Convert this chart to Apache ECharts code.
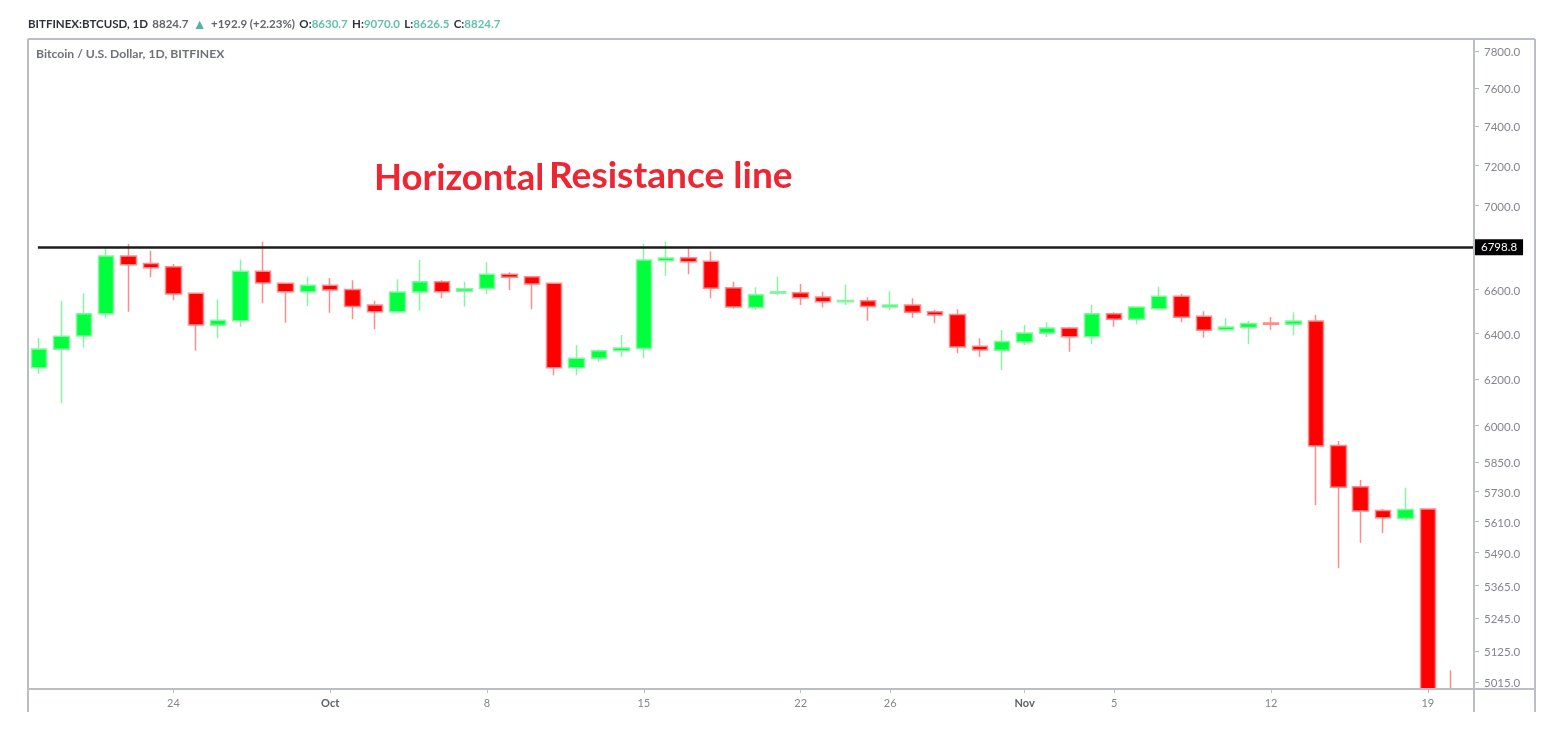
<!DOCTYPE html>
<html>
<head>
<meta charset="utf-8">
<style>
  html, body { margin: 0; padding: 0; background: #fff; }
  #main { width: 1566px; height: 746px; }
</style>
<script src="https://cdn.jsdelivr.net/npm/echarts@6/dist/echarts.min.js"></script>
</head>
<body>
<div id="main"></div>
<script>
// one candle per day, 18 Sep to 20 Nov, day 0 is 18 Sep
// the last two candles run off the picture, candlestick is not clipped so they stop at the axis floor
const opens = [
  6249, 6330, 6389, 6489, 6757, 6722, 6707, 6583, 6437, 6458, 6686, 6630, 6590, 6620, 6600, 6529,
  6499, 6589, 6637, 6592, 6605, 6671, 6660, 6629, 6249, 6290, 6324, 6333, 6735, 6749, 6733, 6609,
  6518, 6583, 6585, 6566, 6544, 6549, 6520, 6529, 6499, 6486, 6343, 6326, 6362, 6401, 6425, 6386,
  6490, 6465, 6512, 6570, 6478, 6417, 6427, 6447, 6442, 6457, 5918, 5749, 5654, 5623, 5660, 4990.2,
];
const closes = [
  6331, 6388, 6490, 6757, 6716, 6702, 6580, 6438, 6460, 6686, 6631, 6590, 6620, 6598, 6522, 6499,
  6589, 6637, 6590, 6604, 6671, 6657, 6626, 6249, 6290, 6324, 6336, 6738, 6748, 6730, 6606, 6520,
  6576, 6590, 6563, 6544, 6550, 6522, 6529, 6496, 6484, 6340, 6327, 6365, 6403, 6425, 6386, 6489,
  6465, 6520, 6569, 6473, 6415, 6429, 6445, 6442, 6457, 5916, 5747, 5652, 5626, 5658, 4990, 4990,
];
const lows = [
  6221, 6095, 6339, 6469, 6499, 6657, 6551, 6324, 6379, 6431, 6537, 6449, 6525, 6494, 6465, 6419,
  6492, 6503, 6560, 6522, 6580, 6598, 6510, 6216, 6216, 6275, 6297, 6290, 6665, 6671, 6560, 6512,
  6506, 6574, 6529, 6518, 6529, 6458, 6506, 6471, 6446, 6312, 6297, 6239, 6349, 6385, 6319, 6352,
  6431, 6442, 6506, 6451, 6381, 6409, 6352, 6417, 6394, 5676, 5430, 5528, 5566, 5614, 4990, 4990,
];
const highs = [
  6380, 6549, 6583, 6794, 6814, 6782, 6719, 6585, 6555, 6741, 6825, 6633, 6660, 6654, 6644, 6549,
  6648, 6738, 6644, 6637, 6728, 6681, 6664, 6631, 6349, 6330, 6394, 6814, 6825, 6794, 6778, 6637,
  6611, 6660, 6626, 6590, 6624, 6565, 6593, 6560, 6508, 6510, 6379, 6416, 6438, 6451, 6429, 6529,
  6496, 6522, 6613, 6580, 6501, 6469, 6457, 6475, 6496, 6484, 5936, 5776, 5660, 5745, 5660, 5056,
];

const tickDays = [6, 13, 20, 27, 34, 38, 44, 48, 55, 62];
const tickLabels = ["24", "Oct", "8", "15", "22", "26", "Nov", "5", "12", "19"];
const priceTicks = [7800, 7600, 7400, 7200, 7000, 6600, 6400, 6200, 6000, 5850, 5730, 5610, 5490, 5365, 5245, 5125, 5015];
const resistance = 6798.8;

const gray = "#83858c";
const frame = "#bcbec6";
const up = "#00ff3c";
const down = "#ff0000";

const myChart = echarts.init(document.getElementById("main"));

function frameLine(x1, y1, x2, y2) {
  return {
    type: "line",
    silent: true,
    z: 10,
    shape: { x1, y1, x2, y2 },
    style: { stroke: frame, lineWidth: 2 },
  };
}

const option = {
  backgroundColor: "#fff",
  animation: false,
  textStyle: { fontFamily: "Lato" },
  title: [
    {
      // OHLC strip above the chart
      left: 23,
      top: 10,
      text:
        "{b|BITFINEX:BTCUSD, 1D} {g|8824.7} {t|▲} {g|+192.9 (+2.23%)} {b|O:}{v|8630.7} {b|H:}{v|9070.0} {b|L:}{v|8626.5} {b|C:}{v|8824.7}",
      textStyle: {
        rich: {
          b: { fontFamily: "Lato", fontSize: 11.5, fontWeight: "bold", color: "#2f3138" },
          g: { fontFamily: "Lato", fontSize: 11.5, color: "#62646b" },
          t: { fontFamily: "Lato", fontSize: 14, color: "#4fb5a0" },
          v: { fontFamily: "Lato", fontSize: 11.5, color: "#63bfad" },
        },
      },
    },
    {
      left: 31,
      top: 43,
      text: "Bitcoin / U.S. Dollar, 1D, BITFINEX",
      textStyle: { fontFamily: "Lato", fontSize: 12.2, fontWeight: "bold", color: "#6f7178" },
    },
    {
      left: 369,
      top: 155,
      text: "Horizontal",
      textStyle: { fontFamily: "Lato", fontSize: 36.5, fontWeight: "bold", color: "#ee2633" },
    },
    {
      left: 544,
      top: 153,
      text: "Resistance line",
      textStyle: { fontFamily: "Lato", fontSize: 37.1, fontWeight: "bold", color: "#ee2633" },
    },
  ],
  grid: { left: 28, right: 92, top: 39, height: 650 },
  xAxis: {
    type: "value",
    min: -0.491,
    max: 64.06,
    splitLine: { show: false },
    axisLine: { onZero: false, lineStyle: { color: frame, width: 1.5 } },
    axisTick: { length: 4, customValues: tickDays, lineStyle: { color: frame } },
    axisLabel: {
      customValues: tickDays,
      margin: 9,
      fontFamily: "Lato",
      fontSize: 11,
      color: gray,
      formatter(value) {
        const label = tickLabels[tickDays.indexOf(value)];
        return label === "Oct" || label === "Nov" ? "{m|" + label + "}" : label;
      },
      rich: { m: { fontFamily: "Lato", fontSize: 11, fontWeight: "bold", color: "#5f6168" } },
    },
  },
  yAxis: {
    type: "log",
    position: "right",
    min: 4990,
    max: 7866,
    splitLine: { show: false },
    axisLine: { show: true, onZero: false, lineStyle: { color: frame, width: 1.5 } },
    axisTick: { length: 5, customValues: priceTicks, lineStyle: { color: frame } },
    axisLabel: {
      customValues: priceTicks,
      margin: 10,
      fontFamily: "Lato",
      fontSize: 11.5,
      color: gray,
      formatter(value) {
        return "{p|" + Number(value).toFixed(1) + "}";
      },
      // labels sit a little under their ticks in the original
      rich: { p: { fontFamily: "Lato", fontSize: 11.5, color: gray, padding: [3, 0, 0, 0] } },
    },
  },
  series: [
    {
      type: "candlestick",
      barWidth: 16,
      encode: { x: 0, y: [1, 2, 3, 4] },
      data: opens.map((o, i) => [i, o, closes[i], lows[i], highs[i]]),
      itemStyle: {
        color: up,
        color0: down,
        borderColor: "#86f7a0",
        borderColor0: "#ff8c8c",
        borderWidth: 1.5,
      },
      markLine: {
        silent: true,
        symbol: "none",
        lineStyle: { color: "#1d1d1d", width: 2.5, type: "solid" },
        label: {
          position: "end",
          distance: 0,
          formatter: resistance.toFixed(1),
          backgroundColor: "#000",
          color: "#fff",
          fontFamily: "Lato",
          fontSize: 11.5,
          padding: [2, 6, 2, 7],
        },
        data: [[{ coord: [-0.05, resistance] }, { coord: [64.06, resistance] }]],
      },
    },
  ],
  graphic: [
    frameLine(28, 39, 28, 712),
    frameLine(28, 39, 1535, 39),
    frameLine(1535, 39, 1535, 712),
    frameLine(1474, 39, 1474, 712),
    frameLine(28, 689, 1535, 689),
  ],
};

myChart.setOption(option);
</script>
</body>
</html>
